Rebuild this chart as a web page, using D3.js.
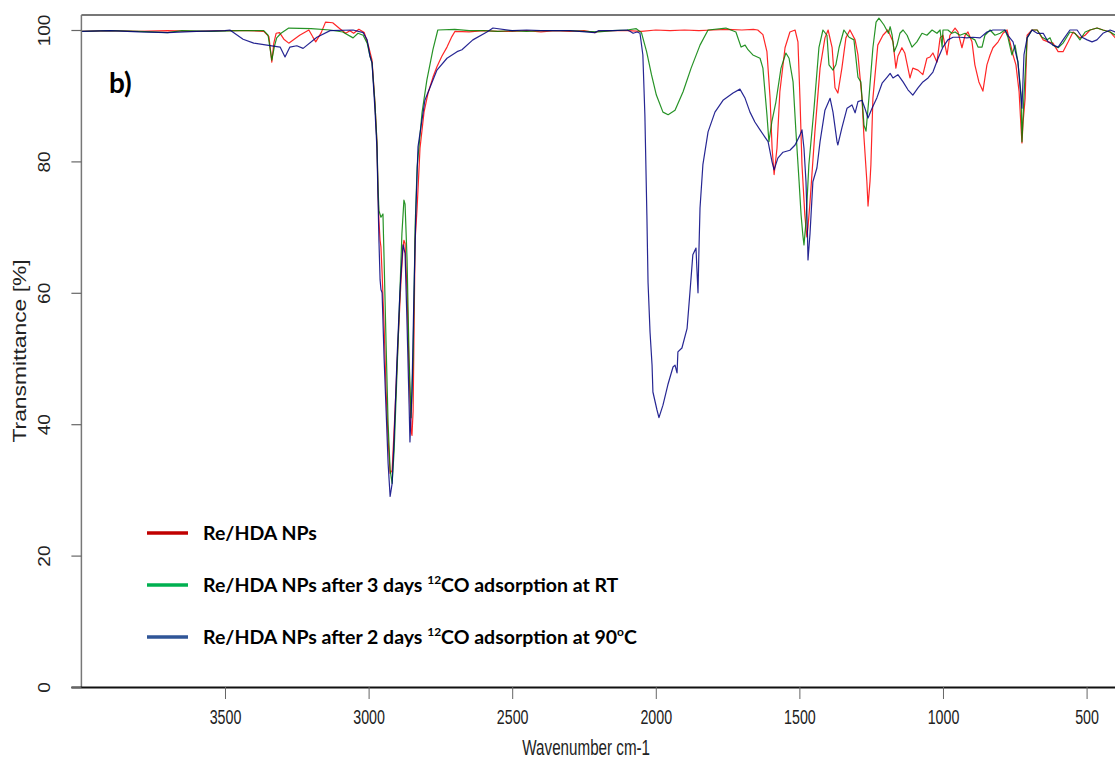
<!DOCTYPE html>
<html>
<head>
<meta charset="utf-8">
<script src="https://cdn.jsdelivr.net/npm/d3@7"></script>
<style>
  html, body { margin: 0; padding: 0; background: #fff; }
  svg { display: block; }
</style>
</head>
<body>
<svg id="chart" width="1115" height="764"></svg>
<script>
// ---- Data (wavenumber cm-1, transmittance %) ----
const xTicks = [3500, 3000, 2500, 2000, 1500, 1000, 500];
const yTicks = [0, 20, 40, 60, 80, 100];

const seriesNames = [
  "Re/HDA NPs",
  "Re/HDA NPs after 3 days 12CO adsorption at RT",
  "Re/HDA NPs after 2 days 12CO adsorption at 90oC"
];

const reHDA = [
  [4000,99.8],[3900,99.9],[3800,99.8],[3700,99.9],[3600,99.8],[3500,99.9],[3420,99.9],[3365,99.8],
  [3347,99.0],[3337,95.1],[3330,98.0],[3322,99.5],[3310,99.6],[3295,98.6],[3278,98.0],[3240,99.2],
  [3208,100.0],[3195,99.0],[3184,98.2],[3165,99.6],[3150,101.2],[3125,101.1],[3100,100.2],[3080,99.5],
  [3065,99.9],[3052,99.5],[3034,100.1],[3015,99.6],[3000,97.5],[2988,95.4],[2978,89.0],[2971,83.0],
  [2967,75.0],[2964,71.0],[2960,68.0],[2957,67.0],[2953,63.0],[2946,55.0],[2939,45.0],[2932,37.6],
  [2925,32.5],[2918,33.0],[2908,42.0],[2898,52.0],[2887,62.0],[2880,67.0],[2877,68.0],[2873,67.5],
  [2866,60.0],[2859,48.0],[2852,39.0],[2849,38.3],[2845,42.0],[2838,68.0],[2831,73.0],[2821,82.0],
  [2807,87.5],[2793,90.4],[2776,92.8],[2762,94.4],[2745,96.0],[2727,97.4],[2710,99.0],[2699,99.8],
  [2650,99.7],[2600,99.9],[2550,99.8],[2500,99.8],[2450,99.9],[2400,99.7],[2350,99.9],[2300,99.8],
  [2250,99.9],[2212,99.6],[2200,99.8],[2150,99.9],[2100,99.9],[2050,99.8],[2000,100.0],[1950,99.9],
  [1900,100.0],[1850,99.9],[1800,100.0],[1750,100.1],[1700,100.0],[1660,100.1],[1645,100.0],
  [1627,99.3],[1613,96.7],[1602,89.6],[1595,82.0],[1588,78.0],[1578,82.0],[1568,90.6],[1550,97.3],
  [1533,99.7],[1515,100.0],[1505,98.2],[1498,89.6],[1491,79.5],[1481,71.8],[1474,68.5],[1470,70.0],
  [1463,73.8],[1446,84.5],[1428,94.2],[1411,98.8],[1400,100.0],[1386,97.3],[1376,91.2],[1366,90.4],
  [1352,94.2],[1338,98.8],[1324,100.0],[1306,98.5],[1296,96.2],[1282,89.6],[1275,83.6],[1265,76.9],
  [1261,73.2],[1254,77.0],[1251,79.5],[1244,89.6],[1227,97.7],[1209,99.2],[1192,100.0],[1174,98.2],
  [1164,94.2],[1157,96.0],[1143,97.3],[1133,96.5],[1115,92.7],[1105,94.2],[1087,93.9],[1070,93.2],
  [1056,95.7],[1045,95.9],[1035,96.5],[1021,95.1],[1010,98.8],[1000,99.2],[986,96.2],[976,99.2],
  [958,100.3],[948,99.7],[934,97.3],[923,99.2],[913,99.7],[899,98.2],[889,94.7],[875,92.1],
  [861,90.7],[847,94.7],[836,96.2],[826,97.3],[808,98.2],[791,99.5],[777,100.0],[767,98.2],
  [756,96.2],[746,94.7],[735,90.6],[728,85.0],[725,82.8],[721,86.0],[714,89.6],[707,99.2],
  [690,100.0],[672,100.0],[651,98.5],[634,98.2],[617,98.0],[599,96.7],[582,96.7],[564,98.2],
  [547,99.7],[523,98.8],[505,99.2],[488,100.0],[463,100.3],[443,100.0],[418,99.7],[400,98.8]
];

const reHDA3d = [
  [4000,99.8],[3900,99.9],[3800,99.8],[3700,99.6],[3650,99.9],[3550,99.8],[3450,99.9],[3365,99.9],
  [3350,99.2],[3337,95.4],[3328,97.5],[3320,98.8],[3305,99.5],[3278,100.3],[3200,100.2],[3134,100.0],
  [3090,99.7],[3054,98.8],[3037,99.5],[3019,99.2],[3005,98.0],[2995,96.0],[2988,95.0],[2978,89.0],
  [2971,83.0],[2967,76.0],[2964,72.5],[2957,71.5],[2950,72.0],[2946,65.0],[2939,52.0],[2932,40.0],
  [2925,33.0],[2918,31.0],[2911,36.0],[2901,48.0],[2891,60.0],[2884,69.0],[2877,74.1],[2873,73.5],
  [2866,65.0],[2859,50.0],[2852,41.0],[2845,50.0],[2838,70.0],[2831,79.1],[2814,87.4],[2797,92.4],
  [2776,97.0],[2759,100.0],[2700,100.1],[2650,99.9],[2600,99.9],[2550,99.8],[2500,99.9],[2450,99.8],
  [2400,99.9],[2350,99.9],[2300,99.9],[2250,99.8],[2200,99.7],[2150,99.9],[2100,100.0],[2068,100.2],
  [2050,99.6],[2032,96.7],[2015,93.2],[1998,90.1],[1975,87.5],[1957,87.1],[1933,87.8],[1905,90.6],
  [1877,94.2],[1846,97.7],[1818,100.0],[1756,100.3],[1721,99.7],[1703,97.4],[1689,97.7],[1679,97.0],
  [1662,96.2],[1637,95.7],[1627,94.2],[1613,87.1],[1606,83.0],[1596,86.0],[1582,89.0],[1564,94.2],
  [1547,96.5],[1536,95.7],[1522,92.1],[1512,84.5],[1501,76.9],[1494,71.8],[1488,68.8],[1484,67.3],
  [1477,70.8],[1467,79.5],[1449,88.1],[1432,97.3],[1418,100.0],[1404,99.2],[1397,94.7],[1383,93.9],
  [1373,94.7],[1362,97.3],[1345,100.0],[1327,98.9],[1310,98.5],[1296,92.8],[1286,92.1],[1275,85.5],
  [1268,84.6],[1258,89.6],[1244,97.3],[1233,101.2],[1223,101.8],[1206,100.8],[1190,99.5],[1184,100.5],
  [1177,99.2],[1170,96.7],[1160,97.7],[1150,99.5],[1139,100.0],[1125,99.2],[1108,97.4],[1091,98.2],
  [1073,99.5],[1056,99.2],[1038,100.0],[1021,99.5],[1010,100.0],[1003,97.4],[1000,100.0],[983,100.0],
  [969,99.5],[958,99.7],[941,99.2],[923,99.5],[906,98.9],[889,98.5],[878,97.4],[864,97.4],
  [854,99.2],[836,100.0],[819,99.2],[801,99.5],[784,100.0],[774,98.9],[760,96.2],[749,97.7],
  [739,95.1],[728,90.1],[725,83.0],[718,90.0],[707,98.8],[690,100.0],[672,100.0],[655,98.9],
  [638,98.5],[627,98.8],[617,97.7],[599,97.3],[582,98.0],[558,99.7],[540,99.5],[523,98.5],
  [505,99.7],[488,100.0],[464,100.3],[443,100.0],[418,99.7],[400,99.2]
];

const reHDA90 = [
  [4000,99.8],[3900,99.9],[3800,99.7],[3700,99.6],[3600,99.8],[3500,99.9],[3483,100.0],[3437,98.6],
  [3400,98.0],[3354,97.7],[3308,97.4],[3291,95.9],[3274,97.4],[3250,97.6],[3228,97.2],[3180,98.9],
  [3134,99.9],[3054,100.0],[3019,99.6],[3005,98.5],[2995,96.0],[2988,95.0],[2978,88.0],[2971,82.0],
  [2967,74.0],[2964,68.0],[2960,62.0],[2957,60.5],[2953,60.0],[2946,50.0],[2939,42.0],[2932,34.0],
  [2925,29.0],[2918,31.0],[2911,38.0],[2901,50.0],[2891,60.0],[2884,65.0],[2880,67.3],[2873,66.0],
  [2866,55.0],[2859,43.0],[2856,37.3],[2849,45.0],[2842,60.0],[2835,73.0],[2828,82.2],[2804,89.3],
  [2762,93.9],[2727,95.7],[2692,96.7],[2675,97.0],[2637,98.5],[2588,99.7],[2567,100.3],[2500,99.9],
  [2450,100.0],[2400,99.9],[2300,99.9],[2212,99.6],[2200,99.9],[2150,99.9],[2100,100.0],[2090,99.8],
  [2079,99.5],[2065,99.7],[2055,99.5],[2045,96.2],[2038,87.1],[2031,71.8],[2027,61.6],[2020,54.0],
  [2013,49.0],[2010,44.9],[1996,42.2],[1989,41.0],[1975,42.9],[1958,46.0],[1940,48.7],[1933,49.0],
  [1926,47.8],[1923,51.0],[1909,51.6],[1891,54.6],[1881,60.1],[1871,65.8],[1860,66.8],[1857,63.8],
  [1853,60.0],[1850,66.0],[1846,72.9],[1836,79.5],[1818,84.5],[1794,87.5],[1766,89.3],[1731,90.4],
  [1707,91.0],[1689,89.6],[1672,87.5],[1655,86.0],[1637,84.8],[1620,83.7],[1609,83.0],[1595,79.9],
  [1588,78.7],[1575,80.5],[1557,81.4],[1533,81.7],[1515,82.5],[1498,84.0],[1491,84.8],[1484,82.0],
  [1477,76.9],[1472,69.3],[1470,65.0],[1463,69.0],[1453,76.9],[1439,79.0],[1428,83.0],[1411,87.8],
  [1393,89.6],[1383,87.5],[1369,83.0],[1366,82.5],[1352,85.1],[1334,88.1],[1317,88.6],[1306,87.4],
  [1296,89.1],[1282,89.3],[1272,88.1],[1261,86.6],[1247,88.1],[1230,89.7],[1212,91.9],[1195,92.8],
  [1184,93.4],[1174,92.7],[1157,93.2],[1139,92.1],[1122,90.9],[1105,90.1],[1087,91.2],[1070,92.1],
  [1052,92.7],[1035,93.6],[1017,95.7],[1000,97.4],[983,98.5],[965,98.9],[941,98.9],[917,98.8],
  [896,98.9],[871,98.8],[847,99.7],[826,100.0],[801,100.0],[784,100.0],[774,99.2],[756,98.2],
  [739,95.1],[725,88.1],[718,96.2],[707,98.8],[690,100.0],[672,99.5],[651,99.5],[634,98.2],
  [617,97.7],[599,97.4],[582,98.5],[558,100.0],[533,100.0],[516,98.9],[498,98.5],[481,98.2],
  [464,98.5],[443,99.5],[418,100.0],[400,99.7]
];

const lineColors = ["#ff0000", "#008000", "#000080"];
const legendColors = ["#c00000", "#00b050", "#2f5597"];

// ---- Layout ----
const svg = d3.select("#chart");
const x = d3.scaleLinear().domain([4000, 400]).range([81.4, 1115.3]);
const y = d3.scaleLinear().domain([0, 100]).range([687, 30]);
const yTop = 102.3;

const axisFont = "'Liberation Sans', Arial, sans-serif";

// lines
const line = d3.line().x(d => x(d[0])).y(d => y(d[1])).curve(d3.curveLinear);
[reHDA, reHDA3d, reHDA90].forEach((s, i) => {
  svg.append("path")
    .datum(s)
    .attr("d", line)
    .attr("fill", "none")
    .attr("stroke", lineColors[i])
    .attr("stroke-width", 1.2)
    .attr("stroke-linejoin", "round")
    .attr("opacity", 0.85);
});

// frame
svg.append("line").attr("x1", x(4000)).attr("x2", 1116).attr("y1", y(yTop)).attr("y2", y(yTop))
  .attr("stroke", "#777").attr("stroke-width", 2);
svg.append("line").attr("x1", x(4000)).attr("x2", x(4000)).attr("y1", y(yTop)).attr("y2", y(0))
  .attr("stroke", "#777").attr("stroke-width", 1.5);

// x axis
const xAxis = d3.axisBottom(x).tickValues(xTicks).tickSize(12).tickFormat(d3.format("d"));
const gx = svg.append("g").attr("transform", `translate(0,${y(0)})`).call(xAxis);
gx.select(".domain").attr("d", `M${x(4000) - 10},0.5H1116`).attr("stroke", "#111").attr("stroke-width", 2);
gx.selectAll(".tick line").attr("stroke", "#666").attr("stroke-width", 1);
gx.selectAll(".tick text")
  .attr("y", 0).attr("dy", 0)
  .attr("font-family", axisFont).attr("font-size", 15).attr("fill", "#222")
  .attr("transform", "translate(0,37) scale(0.95,1.35)");

// y axis
const yAxis = d3.axisLeft(y).tickValues(yTicks).tickSize(10).tickFormat(d3.format("d"));
const gy = svg.append("g").attr("transform", `translate(${x(4000)},0)`).call(yAxis);
gy.select(".domain").remove();
gy.selectAll(".tick line").attr("stroke", "#666").attr("stroke-width", 1.2);
gy.selectAll(".tick text")
  .attr("x", 0).attr("y", 0).attr("dy", 0)
  .attr("text-anchor", "middle")
  .attr("font-family", axisFont).attr("font-size", 17).attr("fill", "#222")
  .attr("transform", "translate(-31,0) rotate(-90) scale(1.12,1)");

// axis titles
svg.append("text")
  .attr("transform", `translate(${(x(4000) + 1115) / 2 - 12},755) scale(0.95,1.35)`)
  .attr("text-anchor", "middle")
  .attr("font-family", axisFont).attr("font-size", 16).attr("fill", "#222")
  .text("Wavenumber cm-1");
svg.append("text")
  .attr("transform", `translate(26,${(y(0) + y(yTop)) / 2}) rotate(-90) scale(1.27,1)`)
  .attr("text-anchor", "middle")
  .attr("font-family", axisFont).attr("font-size", 18).attr("fill", "#222")
  .text("Transmittance [%]");

// panel label
svg.append("text").attr("x", 109).attr("y", 93)
  .attr("font-family", "Lato, 'Open Sans', sans-serif").attr("font-weight", "bold")
  .attr("font-size", 28).attr("fill", "#000").text("b)");

// legend
const legendFont = "Lato, 'Open Sans', sans-serif";
const legendY = [533, 585, 637];
const legendParts = [
  [["Re/HDA NPs", false]],
  [["Re/HDA NPs after 3 days ", false], ["12", true], ["CO adsorption at RT", false]],
  [["Re/HDA NPs after 2 days ", false], ["12", true], ["CO adsorption at 90", false], ["o", true], ["C", false]]
];
const lg = svg.append("g");
seriesNames.forEach((name, i) => {
  lg.append("line").attr("x1", 147).attr("x2", 188)
    .attr("y1", legendY[i]).attr("y2", legendY[i])
    .attr("stroke", legendColors[i]).attr("stroke-width", 3.5);
  const t = lg.append("text").attr("x", 203).attr("y", legendY[i] + 7)
    .attr("font-family", legendFont).attr("font-weight", "bold")
    .attr("font-size", 19.5).attr("fill", "#000");
  let raised = false;
  legendParts[i].forEach(([txt, sup]) => {
    const ts = t.append("tspan").text(txt);
    if (sup && !raised) { ts.attr("font-size", 12).attr("dy", -8); raised = true; }
    else if (!sup && raised) { ts.attr("dy", 8); raised = false; }
  });
});
</script>
</body>
</html>
